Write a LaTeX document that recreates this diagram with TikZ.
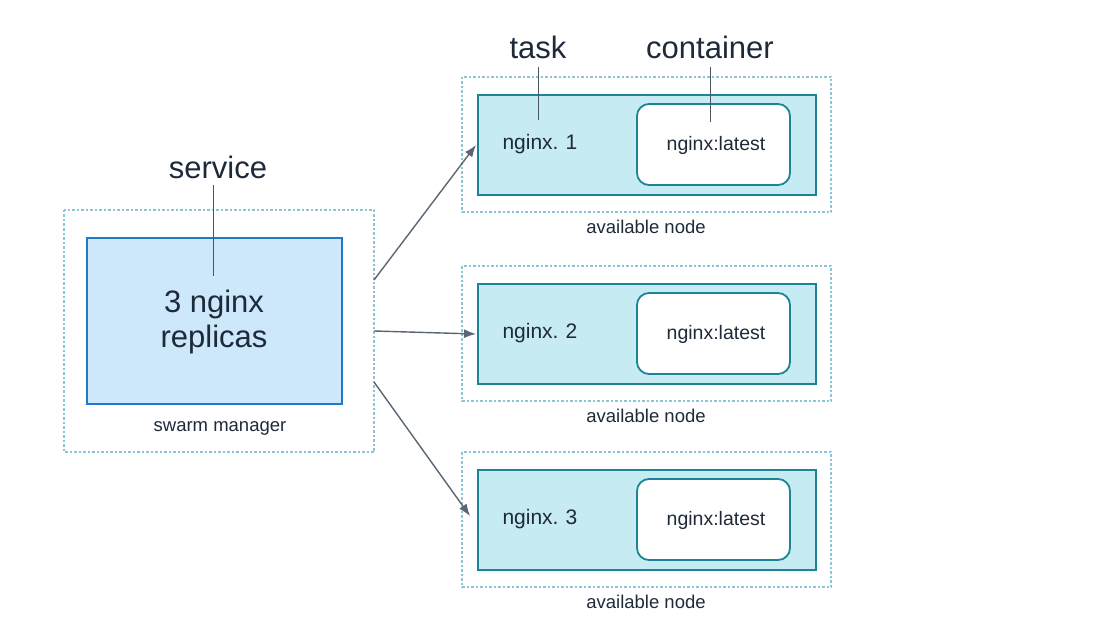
\documentclass[tikz,border=0pt]{standalone}
\usepackage{fontspec}
\setmainfont{Liberation Sans}
\usetikzlibrary{arrows.meta}
\definecolor{mgrfill}{HTML}{CCE8FA}
\definecolor{mgrline}{HTML}{1F78C8}
\definecolor{wfill}{HTML}{C6EBF3}
\definecolor{wline}{HTML}{1B8597}
\definecolor{dotc}{HTML}{8CC4D8}
\definecolor{txt}{HTML}{1E2A3A}
\definecolor{arrc}{HTML}{5A6575}
\begin{document}
\begin{tikzpicture}[x=1pt,y=-1pt,
  outer/.style={draw=dotc,dotted,line width=2.5pt},
  mgr/.style={draw=mgrline,fill=mgrfill,line width=2pt},
  wrk/.style={draw=wline,fill=wfill,line width=2pt},
  cont/.style={draw=wline,fill=white,rounded corners=12pt,line width=1.8pt},
  big/.style={font=\fontsize{31}{35}\selectfont,text=txt},
  mid/.style={font=\fontsize{21}{24}\selectfont,text=txt},
  small/.style={font=\fontsize{19.5}{22}\selectfont,text=txt},
  lbl/.style={font=\fontsize{18.5}{21}\selectfont,text=txt},
  lead/.style={draw=txt!80,line width=1pt},
  arr/.style={draw=arrc,line width=1.4pt,-{Latex[length=12pt,width=9pt]}}]
\useasboundingbox[fill=white] (0,0) rectangle (1100,639);
% manager
\draw[outer] (64,210) rectangle (374,452);
\draw[mgr] (87,238) rectangle (342,404);
\node[big,align=center] (rep) at (214,322) {3 nginx\\replicas};
\node[lbl] (sm) at (220,428) {swarm manager};
\node[big] (svc) at (218,167) {service};
\coordinate (svcend) at (213,276);
\draw[lead] (213,185) -- (svcend);
% workers
\foreach \i/\y in {1/77,2/266,3/452}{
  \draw[outer] (462,\y) rectangle (831,\y+135);
  \draw[wrk] (478,\y+18) rectangle (816,\y+118);
  \draw[cont] (637,\y+27) rectangle (790,\y+108);
  \node[mid,anchor=west] (t\i) at (499,\y+67) {nginx.\,\,\i};
  \node[small] (c\i) at (716,\y+68) {nginx:latest};
  \node[lbl] (an\i) at (646,\y+150) {available node};
  \coordinate (in\i) at (476,\y+68);
}
\node[big] (task) at (538,47) {task};
\node[big] (cn) at (710,47) {container};
\coordinate (taskend) at (538,120);
\coordinate (cnend) at (710,122);
\draw[lead] (538,67) -- (taskend);
\draw[lead] (710,67) -- (cnend);
% arrows
\coordinate (o1) at (374,280);
\coordinate (o2) at (374,331);
\coordinate (o3) at (374,382);
\coordinate (e3) at (470,516);
\draw[arr] (o1) -- (476,145);
\draw[arr] (o2) -- (in2);
\draw[arr] (o3) -- (e3);
\end{tikzpicture}
\end{document}
